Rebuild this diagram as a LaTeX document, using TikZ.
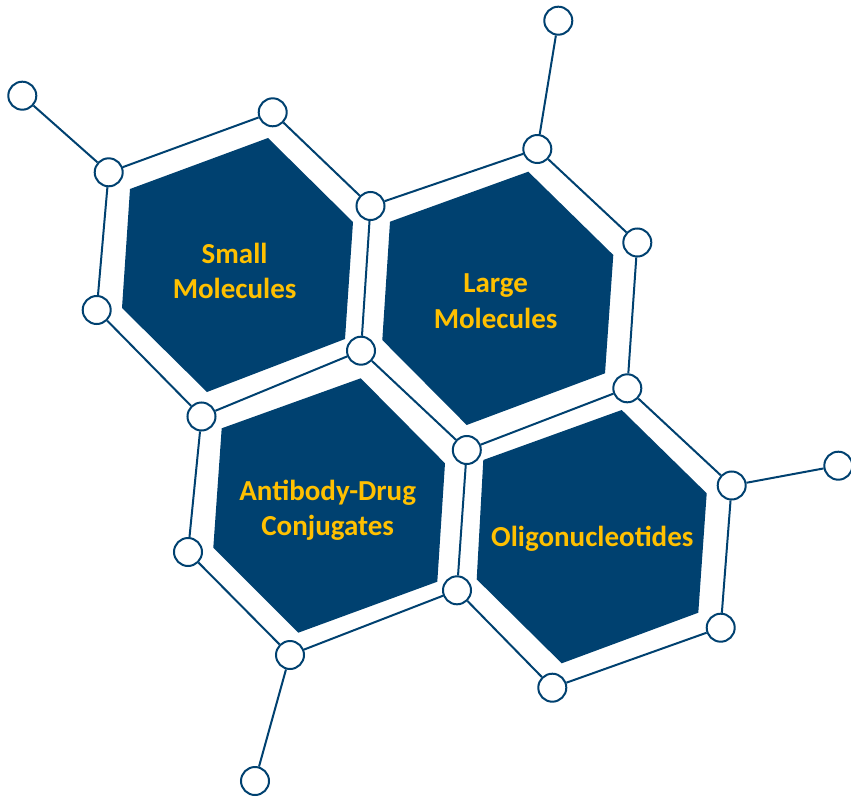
\documentclass[tikz,border=0pt]{standalone}
\usepackage{fontspec}
\setmainfont{Carlito}
\definecolor{hexblue}{RGB}{0,65,112}
\definecolor{hexgold}{RGB}{255,192,0}
\begin{document}
\begin{tikzpicture}[x=1pt,y=-1pt,
  atom/.style={circle,draw=hexblue,fill=white,line width=2pt,minimum size=28pt,inner sep=0pt},
  bond/.style={draw=hexblue,line width=2pt},
  cell/.style={fill=hexblue},
  hextext/.style={text=hexgold,font=\fontsize{29}{35}\selectfont\bfseries,anchor=base,inner sep=0pt}]
\useasboundingbox (0,0) rectangle (851,797);
% inner filled hexagons
\fill[cell] (268,138) -- (353,222) -- (345,339) -- (207,392) -- (122,308) -- (130,189) -- cycle;
\fill[cell] (528.3,171.7) -- (613.3,255) -- (605,373.3) -- (466.7,425) -- (382.3,340) -- (390,221.7) -- cycle;
\fill[cell] (360.7,378.3) -- (445,463.3) -- (437.3,581.7) -- (298.3,632.7) -- (213.3,547.7) -- (221.7,428.3) -- cycle;
\fill[cell] (621.7,410) -- (706.7,493.3) -- (698.3,612.7) -- (561.7,663.3) -- (476.7,579.3) -- (483.3,460) -- cycle;
% atoms
\node[atom] (A) at (272.7,112.3) {};
\node[atom] (B) at (370.5,206) {};
\node[atom] (C) at (361,350.7) {};
\node[atom] (D) at (201.5,416.5) {};
\node[atom] (E) at (96.7,310) {};
\node[atom] (F) at (108.7,172.3) {};
\node[atom] (G) at (537.3,149) {};
\node[atom] (H) at (637.3,242.5) {};
\node[atom] (I) at (627.3,388.3) {};
\node[atom] (J) at (466.8,450) {};
\node[atom] (K) at (457,590.3) {};
\node[atom] (L) at (290,655) {};
\node[atom] (M) at (188,552) {};
\node[atom] (N) at (731.7,485.5) {};
\node[atom] (O) at (720.7,627.7) {};
\node[atom] (P) at (552.3,687.7) {};
\node[atom] (X1) at (22.3,95.7) {};
\node[atom] (X2) at (558.3,20.7) {};
\node[atom] (X3) at (838.3,465.7) {};
\node[atom] (X4) at (255,781) {};
% bonds
\draw[bond] (A) -- (B);
\draw[bond] (B) -- (C);
\draw[bond] (C) -- (D);
\draw[bond] (D) -- (E);
\draw[bond] (E) -- (F);
\draw[bond] (F) -- (A);
\draw[bond] (B) -- (G);
\draw[bond] (G) -- (H);
\draw[bond] (H) -- (I);
\draw[bond] (I) -- (J);
\draw[bond] (J) -- (C);
\draw[bond] (J) -- (K);
\draw[bond] (K) -- (L);
\draw[bond] (L) -- (M);
\draw[bond] (M) -- (D);
\draw[bond] (I) -- (N);
\draw[bond] (N) -- (O);
\draw[bond] (O) -- (P);
\draw[bond] (P) -- (K);
\draw[bond] (F) -- (X1);
\draw[bond] (G) -- (X2);
\draw[bond] (N) -- (X3);
\draw[bond] (L) -- (X4);
% texts
\node[hextext] (t1a) at (234.6,263) {Small};
\node[hextext] (t1b) at (234.6,298) {Molecules};
\node[hextext] (t2a) at (495.6,292.7) {Large};
\node[hextext] (t2b) at (495.6,328.3) {Molecules};
\node[hextext] (t3a) at (327.7,500.7) {Antibody-Drug};
\node[hextext] (t3b) at (327.7,535.5) {Conjugates};
\node[hextext] (t4) at (592.3,546) {Oligonucleotides};
\end{tikzpicture}
\end{document}
